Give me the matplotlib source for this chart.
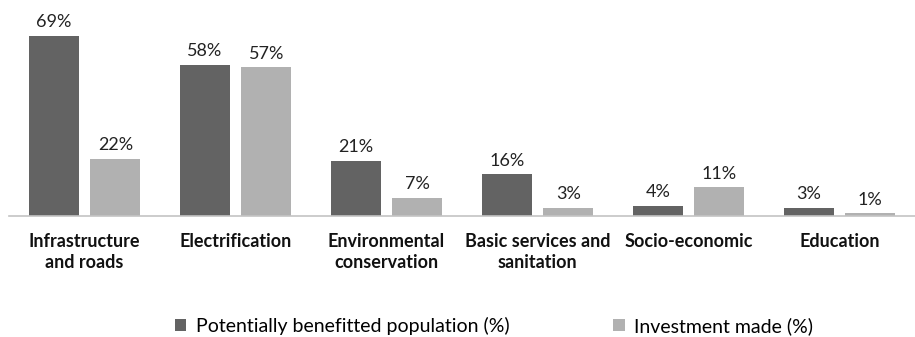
import matplotlib
matplotlib.use("Agg")
import matplotlib.pyplot as plt
import numpy as np

categories = ["Infrastructure\nand roads", "Electrification", "Environmental\nconservation",
              "Basic services and\nsanitation", "Socio-economic", "Education"]
population = [69, 58, 21, 16, 4, 3]
investment = [22, 57, 7, 3, 11, 1]
series_names = ["Potentially benefitted population (%)", "Investment made (%)"]
colors = ["#636363", "#b1b1b1"]

plt.rcParams['font.family'] = ['Lato', 'DejaVu Sans']

fig = plt.figure(figsize=(9.15, 3.37), dpi=100)
ax = fig.add_axes([9/915, 121/337, 906/915, 216/337])

x = np.arange(len(categories))
w = 0.331
off = 0.204
b1 = ax.bar(x - off, population, w, color=colors[0], label=series_names[0])
b2 = ax.bar(x + off, investment, w, color=colors[1], label=series_names[1])
for bars, vals in ((b1, population), (b2, investment)):
    for r, v in zip(bars, vals):
        ax.text(r.get_x() + r.get_width()/2, v + 2.2, f"{v}%", ha='center', va='bottom',
                fontsize=13, color='#222222')

ax.set_xlim(-0.5, len(categories) - 0.5)
ax.set_ylim(0, 82.8)
ax.set_yticks([])
ax.set_xticks(x)
ax.set_xticklabels(categories, fontsize=13, fontweight='bold', color='#111111', linespacing=1.3)
ax.tick_params(axis='x', length=0, pad=12)
for s in ['top', 'right', 'left']:
    ax.spines[s].set_visible(False)
ax.spines['bottom'].set_color('#c4c4c4')
ax.spines['bottom'].set_linewidth(1.2)

fig.legend(handles=[b1, b2], loc='center', bbox_to_anchor=(494/915, 1 - 326/337), ncol=2,
           frameon=False, fontsize=14, handlelength=0.6, handleheight=0.6,
           handletextpad=0.5, columnspacing=5.3)

fig.savefig("out.png", dpi=100)
